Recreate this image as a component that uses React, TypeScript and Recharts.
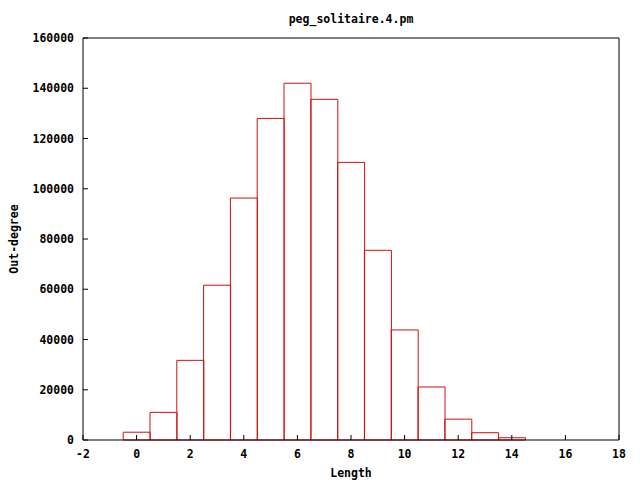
import {
    BarChart,
    Bar,
    XAxis,
    YAxis,
} from 'recharts';

const lengths = [0, 1, 2, 3, 4, 5, 6, 7, 8, 9, 10, 11, 12, 13, 14];
const outDegree = [3100, 11000, 31700, 61600, 96300, 128000, 142000, 135600, 110500, 75500, 43800, 21100, 8300, 2900, 900];
const xTicks = [-2, 0, 2, 4, 6, 8, 10, 12, 14, 16, 18];
const yTicks = [0, 20000, 40000, 60000, 80000, 100000, 120000, 140000, 160000];

const data = lengths.map((len, i) => ({ len, value: outDegree[i] }));

const FONT = '"DejaVu Sans Mono", monospace';
const RED = '#d01010';

// gnuplot style: labels outside, tick marks pointing into the plot
const LeftTick = (props: any) => {
    const { x, y, payload } = props;
    return (
        <g>
            <line x1={x + 9} x2={x + 14} y1={y} y2={y} stroke="#000" />
            <text x={x} y={y} dy={4} textAnchor="end" fontFamily={FONT} fontWeight="bold" fontSize={11.5} fill="#000">
                {payload.value}
            </text>
        </g>
    );
};

const BottomTick = (props: any) => {
    const { x, y, payload } = props;
    return (
        <g>
            <line x1={x} x2={x} y1={y} y2={y - 5} stroke="#000" />
            <text x={x} y={y + 18} textAnchor="middle" fontFamily={FONT} fontWeight="bold" fontSize={11.5} fill="#000">
                {payload.value}
            </text>
        </g>
    );
};

export default function App() {
    return (
        <div style={{ position: 'absolute', left: 0, top: 0, width: 640, height: 480, background: '#fff' }}>
            <BarChart
                width={640}
                height={480}
                data={data}
                margin={{ top: 38, right: 21, left: 0, bottom: 0 }}
                barCategoryGap={0}
                barGap={0}
            >
                <XAxis
                    dataKey="len"
                    type="number"
                    domain={[-2, 18]}
                    ticks={xTicks}
                    interval={0}
                    height={40}
                    tickSize={0}
                    tickMargin={0}
                    tickLine={false}
                    tick={<BottomTick />}
                    axisLine={{ stroke: '#000' }}
                />
                <XAxis
                    xAxisId="top"
                    dataKey="len"
                    type="number"
                    orientation="top"
                    mirror
                    domain={[-2, 18]}
                    ticks={xTicks}
                    interval={0}
                    height={20}
                    tickSize={5}
                    tick={false}
                    stroke="#000"
                />
                <YAxis
                    domain={[0, 160000]}
                    ticks={yTicks}
                    interval={0}
                    width={83}
                    tickSize={0}
                    tickMargin={9}
                    tickLine={false}
                    tick={<LeftTick />}
                    axisLine={{ stroke: '#000' }}
                />
                <YAxis
                    yAxisId="right"
                    orientation="right"
                    mirror
                    domain={[0, 160000]}
                    ticks={yTicks}
                    interval={0}
                    width={20}
                    tickSize={5}
                    tick={false}
                    stroke="#000"
                />
                <Bar dataKey="value" fill="none" stroke={RED} strokeWidth={1} isAnimationActive={false} />
            </BarChart>
            <svg width={640} height={480} style={{ position: 'absolute', left: 0, top: 0, pointerEvents: 'none' }}>
                <text x={351} y={23} textAnchor="middle" fontFamily={FONT} fontWeight="bold" fontSize={11.5}>
                    peg_solitaire.4.pm
                </text>
                <text x={351} y={477} textAnchor="middle" fontFamily={FONT} fontWeight="bold" fontSize={11.5}>
                    Length
                </text>
                <text transform="translate(18,239) rotate(-90)" textAnchor="middle" fontFamily={FONT} fontWeight="bold" fontSize={11.5}>
                    Out-degree
                </text>
            </svg>
        </div>
    );
}
